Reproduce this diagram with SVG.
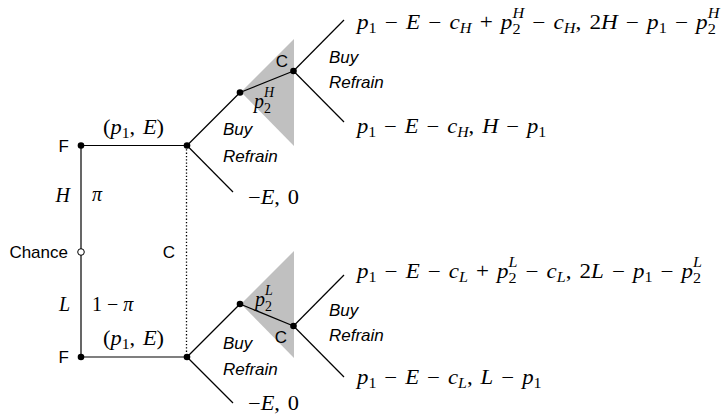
<svg xmlns="http://www.w3.org/2000/svg" width="722" height="417" viewBox="0 0 722 417">
<style>
.ln{stroke:#000;stroke-width:1.2;fill:none}
.dt{stroke:#000;stroke-width:1.3;stroke-dasharray:1.3 2;fill:none}
.tri{fill:#c0c0c0;stroke:none}
.dot{fill:#000}
.open{fill:#fff;stroke:#000;stroke-width:1}
.sa{font-family:"Liberation Sans",Arial,sans-serif;font-size:17px;fill:#000}
.it{font-style:italic}
.m{font-family:"Liberation Serif","DejaVu Serif",serif;font-size:20px;fill:#000;word-spacing:2px}
.v{font-style:italic}
.s{font-size:14px}
</style>
<rect width="722" height="417" fill="#fff"/>
<g id="info-sets">
<polygon class="tri" points="241,92 294,39 294,146"/>
<polygon class="tri" points="241,304 294,251 294,358"/>
</g>
<g id="connectors">
<line class="ln" x1="81" y1="145.5" x2="81" y2="357"/>
<line class="ln" x1="81" y1="145.5" x2="187" y2="145.5"/>
<line class="ln" x1="81" y1="357" x2="187" y2="357"/>
<line class="dt" x1="186.5" y1="146" x2="186.5" y2="357"/>
<line class="ln" x1="187" y1="145.5" x2="240" y2="92.5"/>
<line class="ln" x1="187" y1="145.5" x2="233" y2="192"/>
<line class="ln" x1="240" y1="92.5" x2="293.5" y2="71"/>
<line class="ln" x1="293.5" y1="71" x2="344" y2="20"/>
<line class="ln" x1="293.5" y1="71" x2="344" y2="122"/>
<line class="ln" x1="187" y1="357" x2="240" y2="304"/>
<line class="ln" x1="187" y1="357" x2="233" y2="403"/>
<line class="ln" x1="240" y1="304" x2="293.5" y2="326"/>
<line class="ln" x1="293.5" y1="326" x2="344" y2="275"/>
<line class="ln" x1="293.5" y1="326" x2="344" y2="377"/>
</g>
<g id="F-top">
<circle class="dot" cx="81" cy="145.5" r="3.3"/>
<text class="sa" x="69" y="152" text-anchor="end">F</text>
</g>
<g id="chance">
<circle class="open" cx="81" cy="252" r="3.3"/>
<text class="sa" x="68" y="257.5" text-anchor="end">Chance</text>
</g>
<g id="F-bottom">
<circle class="dot" cx="81" cy="357" r="3.3"/>
<text class="sa" x="69" y="363" text-anchor="end">F</text>
</g>
<g id="chance-labels">
<text class="m v" x="70" y="202" text-anchor="end">H</text>
<text class="m v" x="92" y="201">π</text>
<text class="m v" x="70" y="311" text-anchor="end">L</text>
<text class="m" x="92" y="311" style="word-spacing:0">1 − <tspan class="v">π</tspan></text>
</g>
<g id="offer-labels">
<text class="m" transform="translate(103,134) scale(1.12,1)">(<tspan class="v">p</tspan><tspan class="s" dy="4">1</tspan><tspan dy="-4">, </tspan><tspan class="v">E</tspan>)</text>
<text class="m" transform="translate(103,345) scale(1.12,1)">(<tspan class="v">p</tspan><tspan class="s" dy="4">1</tspan><tspan dy="-4">, </tspan><tspan class="v">E</tspan>)</text>
<text class="sa" x="175" y="258" text-anchor="end">C</text>
</g>
<g id="C-H1">
<circle class="dot" cx="187" cy="145.5" r="3.3"/>
<text class="sa it" x="223" y="135">Buy</text>
<text class="sa it" x="223" y="162">Refrain</text>
<text class="m" transform="translate(248,204) scale(1.12,1)">−<tspan class="v">E</tspan>, 0</text>
</g>
<g id="F-H2">
<circle class="dot" cx="240" cy="92.5" r="3.3"/>
<text class="m" x="254" y="108"><tspan class="v">p</tspan><tspan class="s" dy="4.5">2</tspan><tspan class="s v" dx="-7" dy="-15.5">H</tspan></text>
</g>
<g id="C-H2">
<circle class="dot" cx="293.5" cy="71" r="3.3"/>
<text class="sa" x="288" y="66.5" text-anchor="end">C</text>
<text class="sa it" x="329" y="63">Buy</text>
<text class="sa it" x="329" y="88">Refrain</text>
</g>
<g id="payoffs-H">
<text class="m" transform="translate(357,29) scale(1.16,1)"><tspan class="v">p</tspan><tspan class="s" dy="4">1</tspan><tspan dy="-4"> − </tspan><tspan class="v">E</tspan> − <tspan class="v">c</tspan><tspan class="s v" dy="4">H</tspan><tspan dy="-4"> + </tspan><tspan class="v">p</tspan><tspan class="s" dy="4.5">2</tspan><tspan class="s v" dx="-7" dy="-15.5">H</tspan><tspan dy="11"> − </tspan><tspan class="v">c</tspan><tspan class="s v" dy="4">H</tspan><tspan dy="-4">, 2</tspan><tspan class="v">H</tspan> − <tspan class="v">p</tspan><tspan class="s" dy="4">1</tspan><tspan dy="-4"> − </tspan><tspan class="v">p</tspan><tspan class="s" dy="4.5">2</tspan><tspan class="s v" dx="-7" dy="-15.5">H</tspan></text>
<text class="m" transform="translate(357,133) scale(1.13,1)"><tspan class="v">p</tspan><tspan class="s" dy="4">1</tspan><tspan dy="-4"> − </tspan><tspan class="v">E</tspan> − <tspan class="v">c</tspan><tspan class="s v" dy="4">H</tspan><tspan dy="-4">, </tspan><tspan class="v">H</tspan> − <tspan class="v">p</tspan><tspan class="s" dy="4">1</tspan></text>
</g>
<g id="C-L1">
<circle class="dot" cx="187" cy="357" r="3.3"/>
<text class="sa it" x="223" y="349">Buy</text>
<text class="sa it" x="223" y="375">Refrain</text>
<text class="m" transform="translate(248,410) scale(1.12,1)">−<tspan class="v">E</tspan>, 0</text>
</g>
<g id="F-L2">
<circle class="dot" cx="240" cy="304" r="3.3"/>
<text class="m" x="255" y="306"><tspan class="v">p</tspan><tspan class="s" dy="4.5">2</tspan><tspan class="s v" dx="-7" dy="-15.5">L</tspan></text>
</g>
<g id="C-L2">
<circle class="dot" cx="293.5" cy="326" r="3.3"/>
<text class="sa" x="287" y="343" text-anchor="end">C</text>
<text class="sa it" x="329" y="316">Buy</text>
<text class="sa it" x="329" y="341">Refrain</text>
</g>
<g id="payoffs-L">
<text class="m" transform="translate(357,278) scale(1.15,1)"><tspan class="v">p</tspan><tspan class="s" dy="4">1</tspan><tspan dy="-4"> − </tspan><tspan class="v">E</tspan> − <tspan class="v">c</tspan><tspan class="s v" dy="4">L</tspan><tspan dy="-4"> + </tspan><tspan class="v">p</tspan><tspan class="s" dy="4.5">2</tspan><tspan class="s v" dx="-7" dy="-15.5">L</tspan><tspan dy="11"> − </tspan><tspan class="v">c</tspan><tspan class="s v" dy="4">L</tspan><tspan dy="-4">, 2</tspan><tspan class="v">L</tspan> − <tspan class="v">p</tspan><tspan class="s" dy="4">1</tspan><tspan dy="-4"> − </tspan><tspan class="v">p</tspan><tspan class="s" dy="4.5">2</tspan><tspan class="s v" dx="-7" dy="-15.5">L</tspan></text>
<text class="m" transform="translate(357,384) scale(1.14,1)"><tspan class="v">p</tspan><tspan class="s" dy="4">1</tspan><tspan dy="-4"> − </tspan><tspan class="v">E</tspan> − <tspan class="v">c</tspan><tspan class="s v" dy="4">L</tspan><tspan dy="-4">, </tspan><tspan class="v">L</tspan> − <tspan class="v">p</tspan><tspan class="s" dy="4">1</tspan></text>
</g>
</svg>
